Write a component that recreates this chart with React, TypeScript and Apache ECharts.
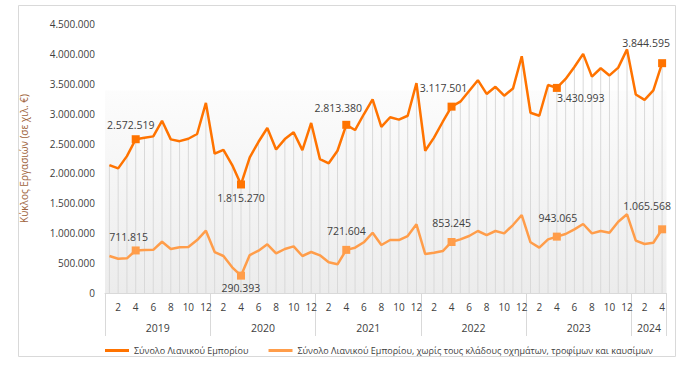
import React, { useEffect, useRef } from "react";
import * as echarts from "echarts";

const yearLabels = ["2019", "2020", "2021", "2022", "2023", "2024"];
const monthsPerYear = [12, 12, 12, 12, 12, 4];
const yTicks = [0, 500000, 1000000, 1500000, 2000000, 2500000, 3000000, 3500000, 4000000, 4500000];

const seriesNames = [
  "Σύνολο Λιανικού Εμπορίου",
  "Σύνολο Λιανικού Εμπορίου, χωρίς τους κλάδους οχημάτων, τροφίμων και καυσίμων",
];

const totalRetail = [
  2140000, 2085000, 2290000, 2572519, 2597000, 2620000, 2880000, 2570000, 2540000, 2580000, 2660000, 3180000,
  2330000, 2395000, 2140000, 1815270, 2270000, 2530000, 2760000, 2400000, 2575000, 2690000, 2390000, 2845000,
  2240000, 2170000, 2380000, 2813380, 2726000, 2990000, 3240000, 2780000, 2940000, 2900000, 2965000, 3510000,
  2380000, 2600000, 2865000, 3117501, 3200000, 3380000, 3560000, 3330000, 3450000, 3300000, 3420000, 3960000,
  3015000, 2965000, 3480000, 3430993, 3580000, 3780000, 4000000, 3620000, 3760000, 3640000, 3770000, 4075000,
  3320000, 3230000, 3390000, 3844595,
];

const retailExcl = [
  619000, 574000, 580000, 711815, 719000, 722000, 858000, 736000, 764000, 769000, 886000, 1042000,
  685000, 619000, 430000, 290393, 635000, 708000, 814000, 663000, 736000, 780000, 619000, 686000,
  630000, 513000, 480000, 721604, 758000, 848000, 1008000, 803000, 886000, 886000, 953000, 1149000,
  652000, 674000, 702000, 853245, 897000, 953000, 1037000, 970000, 1037000, 998000, 1137000, 1304000,
  848000, 758000, 897000, 943065, 987000, 1065000, 1154000, 998000, 1037000, 1009000, 1193000, 1316000,
  875000, 819000, 841000, 1065568,
];

const highlighted = [3, 15, 27, 39, 51, 63];

const categories: string[] = [];
yearLabels.forEach((y, yi) => {
  for (let m = 1; m <= monthsPerYear[yi]; m++) categories.push(`${y}-${m}`);
});

const yearStarts: number[] = [];
{
  let acc = 0;
  monthsPerYear.forEach((n) => {
    yearStarts.push(acc);
    acc += n;
  });
  yearStarts.push(acc);
}
const yearCenters = monthsPerYear.map((n, i) => yearStarts[i] + n / 2);

const fmt = (n: number) => String(Math.round(n)).replace(/\B(?=(\d{3})+(?!\d))/g, ".");

const FONT = "Open Sans";
const TXT = "#404040";
const C1 = "#ff7300";
const C2 = "#ff9d4a";

const topLabelCfg: Record<number, any> = {
  3: { position: "top", offset: [-5, 0] },
  15: { position: "bottom", offset: [0, -1] },
  27: { position: "top", offset: [-8, -2] },
  39: { position: "top", offset: [-8, -4] },
  51: { position: "bottom", offset: [24, -4] },
  63: { position: "top", offset: [-16, -6] },
};
const botLabelCfg: Record<number, any> = {
  3: { position: "top", offset: [-7, 1] },
  15: { position: "bottom", offset: [0, -2] },
  27: { position: "top", offset: [0, -4] },
  39: { position: "top", offset: [0, -4] },
  51: { position: "top", offset: [1, -4] },
  63: { position: "top", offset: [-15, -9] },
};

function buildData(values: number[], color: string, cfg: Record<number, any>) {
  return values.map((v, i) => {
    if (highlighted.indexOf(i) >= 0) {
      return {
        value: v,
        symbol: "rect",
        symbolSize: 8,
        itemStyle: { color },
        label: {
          show: true,
          position: cfg[i].position,
          offset: cfg[i].offset,
          formatter: (p: any) => fmt(p.value),
          color: TXT,
          fontFamily: FONT,
          fontSize: 10.5,
        },
      };
    }
    return { value: v, symbol: "none" };
  });
}

export default function App() {
  const ref = useRef<HTMLDivElement>(null);
  useEffect(() => {
    document.body.style.margin = "0";
    const chart = echarts.init(ref.current!, null, { renderer: "svg" });
    const option: any = {
      animation: false,
      backgroundColor: "#ffffff",
      textStyle: { fontFamily: FONT },
      graphic: [
        {
          type: "rect",
          shape: { x: 18.5, y: 5.5, width: 657, height: 351 },
          style: { fill: "none", stroke: "#d9d9d9", lineWidth: 1 },
          silent: true,
          z: -10,
        },
      ],
      grid: {
        left: 105,
        right: 19.5,
        top: 24,
        bottom: 72,
        show: true,
        borderWidth: 0,
        backgroundColor: new echarts.graphic.LinearGradient(0, 0, 0, 1, [
          { offset: 0, color: "#ffffff" },
          { offset: 0.245, color: "#ffffff" },
          { offset: 0.25, color: "#fcfcfc" },
          { offset: 1, color: "#ececec" },
        ]),
      },
      legend: {
        left: 100,
        top: 341,
        width: 580,
        itemGap: 20,
        itemWidth: 24,
        itemHeight: 3,
        textStyle: { color: TXT, fontFamily: FONT, fontSize: 9 },
        data: [
          { name: seriesNames[0], icon: "rect", itemStyle: { color: C1 } },
          { name: seriesNames[1], icon: "rect", itemStyle: { color: C2 } },
        ],
      },
      xAxis: [
        {
          type: "category",
          data: categories,
          boundaryGap: true,
          axisLine: { show: true, lineStyle: { color: "#d9d9d9", width: 1 } },
          axisTick: { show: false },
          axisLabel: {
            interval: 0,
            margin: 9,
            color: TXT,
            fontFamily: FONT,
            fontSize: 10,
            formatter: (v: string) => {
              const m = Number(v.split("-")[1]);
              return m % 2 === 0 ? String(m) : "";
            },
          },
          splitLine: { show: false },
        },
        {
          type: "value",
          position: "bottom",
          min: 0,
          max: yearStarts[yearStarts.length - 1],
          axisLine: { show: false },
          splitLine: { show: false },
          axisTick: {
            show: true,
            inside: false,
            length: 43,
            customValues: yearStarts,
            lineStyle: { color: "#d9d9d9", width: 1 },
          },
          axisLabel: {
            show: true,
            margin: 29,
            customValues: yearCenters,
            color: TXT,
            fontFamily: FONT,
            fontSize: 10.5,
            formatter: (v: number) => {
              const idx = yearCenters.indexOf(v);
              return idx >= 0 ? yearLabels[idx] : "";
            },
          },
        },
      ],
      yAxis: {
        type: "value",
        min: 0,
        max: 4500000,
        interval: 500000,
        name: "Κύκλος Εργασιών (σε χιλ. €)",
        nameLocation: "middle",
        nameGap: 76,
        nameRotate: 90,
        nameTextStyle: { color: "#a0643c", fontFamily: FONT, fontSize: 10 },
        axisLine: { show: false },
        axisTick: { show: false },
        splitLine: { show: false },
        axisLabel: {
          margin: 10,
          color: TXT,
          fontFamily: FONT,
          fontSize: 10,
          customValues: yTicks,
          formatter: (v: number) => fmt(v),
        },
      },
      series: [
        {
          type: "bar",
          name: "drop",
          data: totalRetail,
          barWidth: 1,
          itemStyle: { color: "#d9d9d9" },
          silent: true,
          z: 1,
          legendHoverLink: false,
        },
        {
          type: "line",
          name: seriesNames[0],
          data: buildData(totalRetail, C1, topLabelCfg),
          symbol: "none",
          showSymbol: true,
          lineStyle: { color: C1, width: 2.5 },
          itemStyle: { color: C1 },
          z: 3,
        },
        {
          type: "line",
          name: seriesNames[1],
          data: buildData(retailExcl, C2, botLabelCfg),
          symbol: "none",
          showSymbol: true,
          lineStyle: { color: C2, width: 2.5 },
          itemStyle: { color: C2 },
          z: 3,
        },
      ],
    };
    chart.setOption(option);
    return () => chart.dispose();
  }, []);
  return <div ref={ref} style={{ width: 686, height: 365 }} />;
}
